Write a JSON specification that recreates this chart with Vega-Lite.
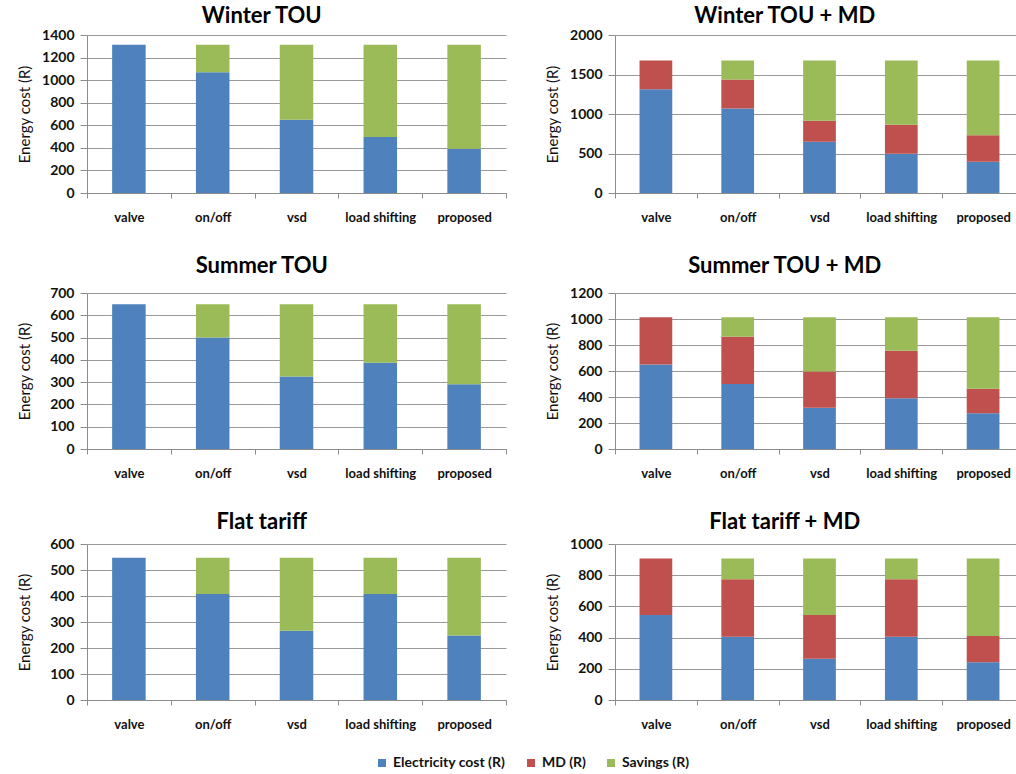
{
  "$schema": "https://vega.github.io/schema/vega-lite/v6.json",
  "padding": {"left": 17, "top": 5, "right": 0, "bottom": 0},
  "datasets": {
    "costs": [
      {"panel": "Winter TOU", "method": "valve", "component": "Electricity cost (R)", "value": 1313},
      {"panel": "Winter TOU", "method": "on/off", "component": "Electricity cost (R)", "value": 1069},
      {"panel": "Winter TOU", "method": "on/off", "component": "Savings (R)", "value": 244},
      {"panel": "Winter TOU", "method": "vsd", "component": "Electricity cost (R)", "value": 650},
      {"panel": "Winter TOU", "method": "vsd", "component": "Savings (R)", "value": 663},
      {"panel": "Winter TOU", "method": "load shifting", "component": "Electricity cost (R)", "value": 496},
      {"panel": "Winter TOU", "method": "load shifting", "component": "Savings (R)", "value": 817},
      {"panel": "Winter TOU", "method": "proposed", "component": "Electricity cost (R)", "value": 393},
      {"panel": "Winter TOU", "method": "proposed", "component": "Savings (R)", "value": 920},

      {"panel": "Winter TOU + MD", "method": "valve", "component": "Electricity cost (R)", "value": 1313},
      {"panel": "Winter TOU + MD", "method": "valve", "component": "MD (R)", "value": 365},
      {"panel": "Winter TOU + MD", "method": "on/off", "component": "Electricity cost (R)", "value": 1069},
      {"panel": "Winter TOU + MD", "method": "on/off", "component": "MD (R)", "value": 367},
      {"panel": "Winter TOU + MD", "method": "on/off", "component": "Savings (R)", "value": 242},
      {"panel": "Winter TOU + MD", "method": "vsd", "component": "Electricity cost (R)", "value": 648},
      {"panel": "Winter TOU + MD", "method": "vsd", "component": "MD (R)", "value": 268},
      {"panel": "Winter TOU + MD", "method": "vsd", "component": "Savings (R)", "value": 762},
      {"panel": "Winter TOU + MD", "method": "load shifting", "component": "Electricity cost (R)", "value": 496},
      {"panel": "Winter TOU + MD", "method": "load shifting", "component": "MD (R)", "value": 367},
      {"panel": "Winter TOU + MD", "method": "load shifting", "component": "Savings (R)", "value": 815},
      {"panel": "Winter TOU + MD", "method": "proposed", "component": "Electricity cost (R)", "value": 395},
      {"panel": "Winter TOU + MD", "method": "proposed", "component": "MD (R)", "value": 335},
      {"panel": "Winter TOU + MD", "method": "proposed", "component": "Savings (R)", "value": 948},

      {"panel": "Summer TOU", "method": "valve", "component": "Electricity cost (R)", "value": 650},
      {"panel": "Summer TOU", "method": "on/off", "component": "Electricity cost (R)", "value": 500},
      {"panel": "Summer TOU", "method": "on/off", "component": "Savings (R)", "value": 150},
      {"panel": "Summer TOU", "method": "vsd", "component": "Electricity cost (R)", "value": 325},
      {"panel": "Summer TOU", "method": "vsd", "component": "Savings (R)", "value": 325},
      {"panel": "Summer TOU", "method": "load shifting", "component": "Electricity cost (R)", "value": 387},
      {"panel": "Summer TOU", "method": "load shifting", "component": "Savings (R)", "value": 263},
      {"panel": "Summer TOU", "method": "proposed", "component": "Electricity cost (R)", "value": 290},
      {"panel": "Summer TOU", "method": "proposed", "component": "Savings (R)", "value": 360},

      {"panel": "Summer TOU + MD", "method": "valve", "component": "Electricity cost (R)", "value": 650},
      {"panel": "Summer TOU + MD", "method": "valve", "component": "MD (R)", "value": 363},
      {"panel": "Summer TOU + MD", "method": "on/off", "component": "Electricity cost (R)", "value": 500},
      {"panel": "Summer TOU + MD", "method": "on/off", "component": "MD (R)", "value": 364},
      {"panel": "Summer TOU + MD", "method": "on/off", "component": "Savings (R)", "value": 149},
      {"panel": "Summer TOU + MD", "method": "vsd", "component": "Electricity cost (R)", "value": 318},
      {"panel": "Summer TOU + MD", "method": "vsd", "component": "MD (R)", "value": 278},
      {"panel": "Summer TOU + MD", "method": "vsd", "component": "Savings (R)", "value": 417},
      {"panel": "Summer TOU + MD", "method": "load shifting", "component": "Electricity cost (R)", "value": 390},
      {"panel": "Summer TOU + MD", "method": "load shifting", "component": "MD (R)", "value": 366},
      {"panel": "Summer TOU + MD", "method": "load shifting", "component": "Savings (R)", "value": 257},
      {"panel": "Summer TOU + MD", "method": "proposed", "component": "Electricity cost (R)", "value": 275},
      {"panel": "Summer TOU + MD", "method": "proposed", "component": "MD (R)", "value": 189},
      {"panel": "Summer TOU + MD", "method": "proposed", "component": "Savings (R)", "value": 549},

      {"panel": "Flat tariff", "method": "valve", "component": "Electricity cost (R)", "value": 547},
      {"panel": "Flat tariff", "method": "on/off", "component": "Electricity cost (R)", "value": 408},
      {"panel": "Flat tariff", "method": "on/off", "component": "Savings (R)", "value": 139},
      {"panel": "Flat tariff", "method": "vsd", "component": "Electricity cost (R)", "value": 266},
      {"panel": "Flat tariff", "method": "vsd", "component": "Savings (R)", "value": 281},
      {"panel": "Flat tariff", "method": "load shifting", "component": "Electricity cost (R)", "value": 408},
      {"panel": "Flat tariff", "method": "load shifting", "component": "Savings (R)", "value": 139},
      {"panel": "Flat tariff", "method": "proposed", "component": "Electricity cost (R)", "value": 248},
      {"panel": "Flat tariff", "method": "proposed", "component": "Savings (R)", "value": 299},

      {"panel": "Flat tariff + MD", "method": "valve", "component": "Electricity cost (R)", "value": 545},
      {"panel": "Flat tariff + MD", "method": "valve", "component": "MD (R)", "value": 362},
      {"panel": "Flat tariff + MD", "method": "on/off", "component": "Electricity cost (R)", "value": 406},
      {"panel": "Flat tariff + MD", "method": "on/off", "component": "MD (R)", "value": 368},
      {"panel": "Flat tariff + MD", "method": "on/off", "component": "Savings (R)", "value": 133},
      {"panel": "Flat tariff + MD", "method": "vsd", "component": "Electricity cost (R)", "value": 265},
      {"panel": "Flat tariff + MD", "method": "vsd", "component": "MD (R)", "value": 280},
      {"panel": "Flat tariff + MD", "method": "vsd", "component": "Savings (R)", "value": 362},
      {"panel": "Flat tariff + MD", "method": "load shifting", "component": "Electricity cost (R)", "value": 406},
      {"panel": "Flat tariff + MD", "method": "load shifting", "component": "MD (R)", "value": 368},
      {"panel": "Flat tariff + MD", "method": "load shifting", "component": "Savings (R)", "value": 133},
      {"panel": "Flat tariff + MD", "method": "proposed", "component": "Electricity cost (R)", "value": 242},
      {"panel": "Flat tariff + MD", "method": "proposed", "component": "MD (R)", "value": 168},
      {"panel": "Flat tariff + MD", "method": "proposed", "component": "Savings (R)", "value": 497}
    ]
  },
  "spacing": 31,
  "vconcat": [
    {
      "spacing": 38,
      "hconcat": [
        {
          "title": {"text": "Winter TOU", "offset": 0},
          "width": 419, "height": 158,
          "data": {"name": "costs"},
          "transform": [{"filter": "datum.panel === 'Winter TOU'"}],
          "mark": {"type": "bar", "width": {"band": 0.4}},
          "encoding": {
            "x": {"field": "method", "type": "nominal", "sort": null, "scale": {"padding": 0}},
            "y": {"field": "value", "type": "quantitative", "title": "Energy cost (R)", "scale": {"domain": [0, 1400], "nice": false}, "axis": {"values": [0, 200, 400, 600, 800, 1000, 1200, 1400]}},
            "color": {"field": "component", "type": "nominal", "scale": {"domain": ["Electricity cost (R)", "MD (R)", "Savings (R)"], "range": ["#4F81BD", "#C0504D", "#9BBB59"]}},
            "order": {"field": "component", "sort": "ascending"}
          }
        },
        {
          "title": {"text": "Winter TOU + MD", "offset": 0},
          "width": 409, "height": 158,
          "data": {"name": "costs"},
          "transform": [{"filter": "datum.panel === 'Winter TOU + MD'"}],
          "mark": {"type": "bar", "width": {"band": 0.4}},
          "encoding": {
            "x": {"field": "method", "type": "nominal", "sort": null, "scale": {"padding": 0}},
            "y": {"field": "value", "type": "quantitative", "title": "Energy cost (R)", "scale": {"domain": [0, 2000], "nice": false}, "axis": {"values": [0, 500, 1000, 1500, 2000]}},
            "color": {"field": "component", "type": "nominal", "scale": {"domain": ["Electricity cost (R)", "MD (R)", "Savings (R)"], "range": ["#4F81BD", "#C0504D", "#9BBB59"]}},
            "order": {"field": "component", "sort": "ascending"}
          }
        }
      ]
    },
    {
      "spacing": 38,
      "hconcat": [
        {
          "title": {"text": "Summer TOU", "offset": 8},
          "width": 419, "height": 156,
          "data": {"name": "costs"},
          "transform": [{"filter": "datum.panel === 'Summer TOU'"}],
          "mark": {"type": "bar", "width": {"band": 0.4}},
          "encoding": {
            "x": {"field": "method", "type": "nominal", "sort": null, "scale": {"padding": 0}},
            "y": {"field": "value", "type": "quantitative", "title": "Energy cost (R)", "scale": {"domain": [0, 700], "nice": false}, "axis": {"values": [0, 100, 200, 300, 400, 500, 600, 700]}},
            "color": {"field": "component", "type": "nominal", "scale": {"domain": ["Electricity cost (R)", "MD (R)", "Savings (R)"], "range": ["#4F81BD", "#C0504D", "#9BBB59"]}},
            "order": {"field": "component", "sort": "ascending"}
          }
        },
        {
          "title": {"text": "Summer TOU + MD", "offset": 8},
          "width": 409, "height": 156,
          "data": {"name": "costs"},
          "transform": [{"filter": "datum.panel === 'Summer TOU + MD'"}],
          "mark": {"type": "bar", "width": {"band": 0.4}},
          "encoding": {
            "x": {"field": "method", "type": "nominal", "sort": null, "scale": {"padding": 0}},
            "y": {"field": "value", "type": "quantitative", "title": "Energy cost (R)", "scale": {"domain": [0, 1200], "nice": false}, "axis": {"values": [0, 200, 400, 600, 800, 1000, 1200]}},
            "color": {"field": "component", "type": "nominal", "scale": {"domain": ["Electricity cost (R)", "MD (R)", "Savings (R)"], "range": ["#4F81BD", "#C0504D", "#9BBB59"]}},
            "order": {"field": "component", "sort": "ascending"}
          }
        }
      ]
    },
    {
      "spacing": 38,
      "hconcat": [
        {
          "title": {"text": "Flat tariff", "offset": 3},
          "width": 419, "height": 156,
          "data": {"name": "costs"},
          "transform": [{"filter": "datum.panel === 'Flat tariff'"}],
          "mark": {"type": "bar", "width": {"band": 0.4}},
          "encoding": {
            "x": {"field": "method", "type": "nominal", "sort": null, "scale": {"padding": 0}},
            "y": {"field": "value", "type": "quantitative", "title": "Energy cost (R)", "scale": {"domain": [0, 600], "nice": false}, "axis": {"values": [0, 100, 200, 300, 400, 500, 600]}},
            "color": {"field": "component", "type": "nominal", "scale": {"domain": ["Electricity cost (R)", "MD (R)", "Savings (R)"], "range": ["#4F81BD", "#C0504D", "#9BBB59"]}},
            "order": {"field": "component", "sort": "ascending"}
          }
        },
        {
          "title": {"text": "Flat tariff + MD", "offset": 3},
          "width": 409, "height": 156,
          "data": {"name": "costs"},
          "transform": [{"filter": "datum.panel === 'Flat tariff + MD'"}],
          "mark": {"type": "bar", "width": {"band": 0.4}},
          "encoding": {
            "x": {"field": "method", "type": "nominal", "sort": null, "scale": {"padding": 0}},
            "y": {"field": "value", "type": "quantitative", "title": "Energy cost (R)", "scale": {"domain": [0, 1000], "nice": false}, "axis": {"values": [0, 200, 400, 600, 800, 1000]}},
            "color": {"field": "component", "type": "nominal", "scale": {"domain": ["Electricity cost (R)", "MD (R)", "Savings (R)"], "range": ["#4F81BD", "#C0504D", "#9BBB59"]}},
            "order": {"field": "component", "sort": "ascending"}
          }
        }
      ]
    }
  ],
  "config": {
    "font": "Lato",
    "background": "#ffffff",
    "view": {"stroke": null},
    "title": {"font": "Lato", "fontSize": 22, "fontWeight": "bold", "color": "#000000", "anchor": "middle", "frame": "bounds"},
    "axis": {
      "labelFont": "Lato", "labelFontSize": 14, "labelFontWeight": "bold", "labelColor": "#111111",
      "titleFont": "Lato", "titleFontSize": 15, "titleFontWeight": "normal", "titleColor": "#111111",
      "domainColor": "#8c8c8c", "tickColor": "#8c8c8c"
    },
    "axisX": {"title": null, "grid": false, "tickBand": "extent", "labelAngle": 0, "labelPadding": 13, "labelFontSize": 13, "tickSize": 5},
    "axisY": {"grid": true, "gridColor": "#999999", "gridWidth": 1, "tickSize": 7, "labelPadding": 6, "titlePadding": 9, "format": "d", "minExtent": 46, "maxExtent": 46},
    "legend": {
      "orient": "none", "legendX": 288, "legendY": 721, "direction": "horizontal", "title": null,
      "symbolType": "square", "symbolSize": 64, "symbolStrokeWidth": 0, "symbolOpacity": 1,
      "labelFont": "Lato", "labelFontSize": 14, "labelFontWeight": "bold", "labelColor": "#111111",
      "columnPadding": 18
    }
  }
}
